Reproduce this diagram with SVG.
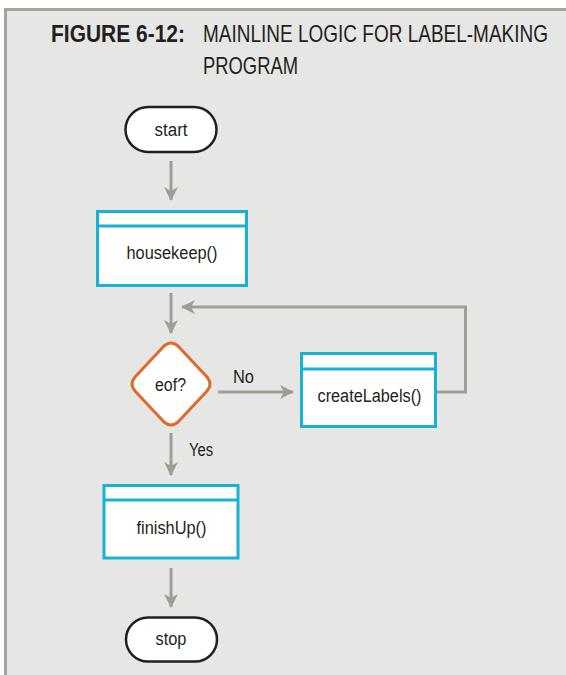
<svg xmlns="http://www.w3.org/2000/svg" width="566" height="675" viewBox="0 0 566 675">
  <defs>
    <style>
      .bg { fill: #e6e6e4; }
      .frame { stroke: #a2a49c; stroke-width: 3; fill: none; }
      .title { font-family: "Liberation Sans", Arial, sans-serif; font-size: 20px; fill: #231f20; }
      .bold { font-weight: bold; }
      .lbl { font-family: "Liberation Sans", Arial, sans-serif; font-size: 18px; fill: #231f20; }
      .mid { text-anchor: middle; }
      .term { fill: #ffffff; stroke: #231f20; stroke-width: 2.5; }
      .proc { fill: #ffffff; stroke: #18b2d6; stroke-width: 3; }
      .dec { fill: #ffffff; stroke: #e1692c; stroke-width: 3; stroke-linejoin: round; }
      .flow { fill: none; stroke: #9d9e96; stroke-width: 3; }
    </style>
    <marker id="arr" markerWidth="14" markerHeight="14" refX="13" refY="7" orient="auto" markerUnits="userSpaceOnUse">
      <path d="M0,0 L14,7 L0,14 L4,7 Z" fill="#9d9e96"/>
    </marker>
  </defs>

  <rect class="bg" x="0" y="0" width="566" height="675"/>
  <rect x="0" y="0" width="566" height="8" fill="#ffffff"/>
  <rect x="0" y="0" width="4" height="675" fill="#ffffff"/>
  <path class="frame" d="M5.5,675 V9.5 H566"/>

  <g id="title">
    <text class="title bold" transform="translate(51,41.5) scale(1,1.18)" x="0" y="0" textLength="134" lengthAdjust="spacingAndGlyphs">FIGURE 6-12:</text>
    <text class="title" transform="translate(203,41.5) scale(1,1.18)" x="0" y="0" textLength="345" lengthAdjust="spacingAndGlyphs">MAINLINE LOGIC FOR LABEL-MAKING</text>
    <text class="title" transform="translate(203,73.5) scale(1,1.18)" x="0" y="0" textLength="95" lengthAdjust="spacingAndGlyphs">PROGRAM</text>
  </g>

  <g id="connectors">
    <line class="flow" x1="171" y1="161" x2="171" y2="200" marker-end="url(#arr)"/>
    <line class="flow" x1="171" y1="293" x2="171" y2="333" marker-end="url(#arr)"/>
    <line class="flow" x1="218" y1="392" x2="293" y2="392" marker-end="url(#arr)"/>
    <polyline class="flow" points="437,392 465.5,392 465.5,307 182,307" marker-end="url(#arr)"/>
    <line class="flow" x1="171" y1="433" x2="171" y2="475" marker-end="url(#arr)"/>
    <line class="flow" x1="171" y1="568" x2="171" y2="607" marker-end="url(#arr)"/>
    <text class="lbl" x="233" y="383" textLength="21" lengthAdjust="spacingAndGlyphs">No</text>
    <text class="lbl" x="189" y="455.5" textLength="24" lengthAdjust="spacingAndGlyphs">Yes</text>
  </g>

  <g id="start">
    <rect class="term" x="125.5" y="107" width="91" height="45" rx="22.5"/>
    <text class="lbl mid" x="171" y="135.5" textLength="33" lengthAdjust="spacingAndGlyphs">start</text>
  </g>

  <g id="housekeep">
    <rect class="proc" x="97.5" y="211.5" width="149" height="74"/>
    <line class="proc" x1="97.5" y1="226" x2="246.5" y2="226"/>
    <text class="lbl mid" x="172" y="259" textLength="91" lengthAdjust="spacingAndGlyphs">housekeep()</text>
  </g>

  <g id="eof">
    <path class="dec" d="M164,346 Q171,340 178,346 L207,377 Q213,384 207,391 L178,422 Q171,428 164,422 L135,391 Q129,384 135,377 Z"/>
    <text class="lbl mid" x="170.5" y="390.5" textLength="31" lengthAdjust="spacingAndGlyphs">eof?</text>
  </g>

  <g id="createLabels">
    <rect class="proc" x="301.5" y="353.5" width="134" height="73"/>
    <line class="proc" x1="301.5" y1="369" x2="435.5" y2="369"/>
    <text class="lbl mid" x="369.5" y="402" textLength="104" lengthAdjust="spacingAndGlyphs">createLabels()</text>
  </g>

  <g id="finishUp">
    <rect class="proc" x="104" y="485.5" width="134" height="72.5"/>
    <line class="proc" x1="104" y1="500" x2="238" y2="500"/>
    <text class="lbl mid" x="171.5" y="533.5" textLength="70" lengthAdjust="spacingAndGlyphs">finishUp()</text>
  </g>

  <g id="stop">
    <rect class="term" x="126" y="617.5" width="91" height="44" rx="22"/>
    <text class="lbl mid" x="171" y="645" textLength="31" lengthAdjust="spacingAndGlyphs">stop</text>
  </g>
</svg>
